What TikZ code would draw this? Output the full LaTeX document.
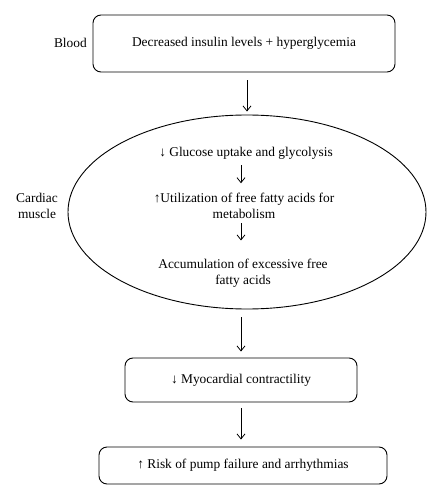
\documentclass[tikz,border=0pt]{standalone}
\usepackage{fontspec}
\setmainfont{Liberation Serif}
\usetikzlibrary{shapes.geometric,arrows.meta}
\begin{document}
\begin{tikzpicture}[x=1pt,y=-1pt,
  every node/.style={font=\fontsize{13.4}{16}\selectfont, inner sep=0pt},
  rbox/.style={draw, line width=0.9pt, rounded corners=8pt},
  arr/.style={-{Straight Barb[length=5pt,width=8pt]}, line width=0.8pt},
  lbl/.style={align=center}]
\useasboundingbox (0,0) rectangle (441,500);
\node[rbox, minimum width=302pt, minimum height=57pt] (b1) at (244,43.5) {Decreased insulin levels + hyperglycemia};
\node[lbl, anchor=east] (blood) at (87,43) {Blood};
\node[draw, ellipse, line width=0.9pt, minimum width=358pt, minimum height=194pt] (ell) at (247,212) {};
\node[lbl] (t1) at (246,153) {↓ Glucose uptake and glycolysis};
\node[lbl] (t2) at (244,205.5) {↑Utilization of free fatty acids for\\metabolism};
\node[lbl] (t3) at (243,273) {Accumulation of excessive free\\fatty acids};
\node[lbl] (cm) at (37,206) {Cardiac\\muscle};
\node[rbox, minimum width=232pt, minimum height=44pt] (b2) at (241,380) {↓ Myocardial contractility};
\node[rbox, minimum width=288pt, minimum height=37pt] (b3) at (243,465.5) {↑ Risk of pump failure and arrhythmias};
\draw[arr, shorten <=8pt, shorten >=3pt] (ell.north |- b1.south) -- (ell.north);
\draw[arr] (t1.south) ++(-5,6) -- ++(0,18);
\draw[arr] (t2.south) ++(-3,5) -- ++(0,17);
\draw[arr, shorten <=8pt, shorten >=6pt] (ell.south) ++(-6,0) -- (b2.north);
\draw[arr, shorten <=6pt, shorten >=7pt] (b2.south) -- (b2.south |- b3.north);
\end{tikzpicture}
\end{document}
